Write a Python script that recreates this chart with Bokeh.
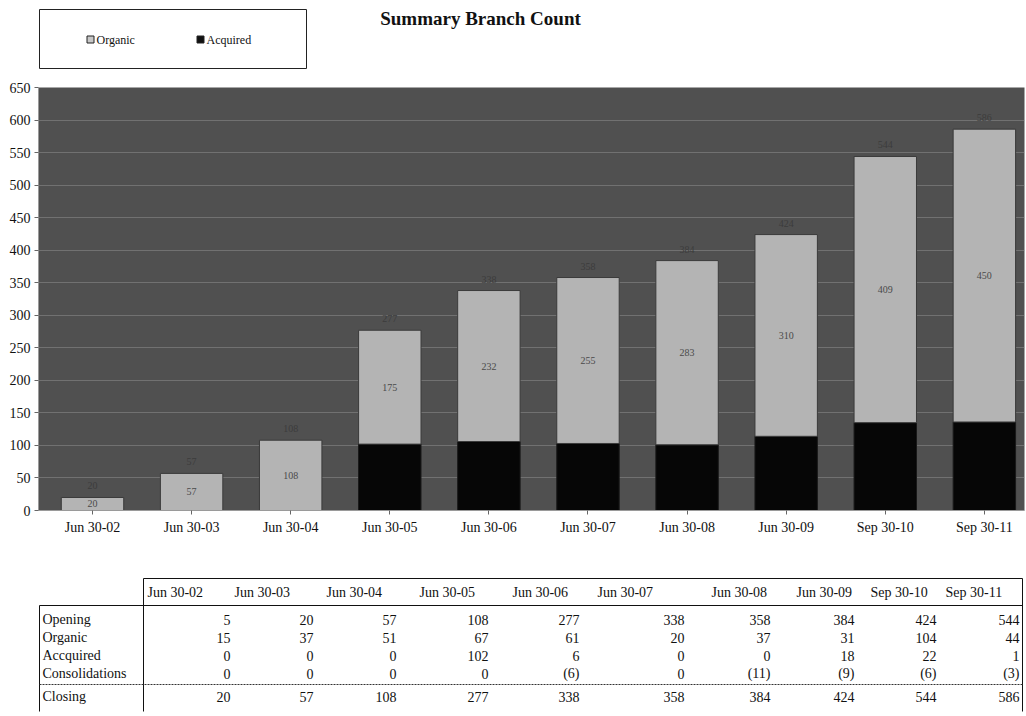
from bokeh.plotting import figure
from bokeh.layouts import column
from bokeh.models import Range1d, FixedTicker, ColumnDataSource
from bokeh.core.properties import value
from bokeh.embed import file_html
from bokeh.resources import INLINE

# ---- data ----
periods = ["Jun 30-02", "Jun 30-03", "Jun 30-04", "Jun 30-05", "Jun 30-06",
           "Jun 30-07", "Jun 30-08", "Jun 30-09", "Sep 30-10", "Sep 30-11"]
organic_branches = [20, 57, 108, 175, 232, 255, 283, 310, 409, 450]
acquired_branches = [0, 0, 0, 102, 106, 103, 101, 114, 135, 136]

row_names = ["Opening", "Organic", "Accquired", "Consolidations", "Closing"]
opening = [5, 20, 57, 108, 277, 338, 358, 384, 424, 544]
organic_adds = [15, 37, 51, 67, 61, 20, 37, 31, 104, 44]
acquired_adds = [0, 0, 0, 102, 6, 0, 0, 18, 22, 1]
consolidations = [0, 0, 0, 0, -6, 0, -11, -9, -6, -3]
closing = [20, 57, 108, 277, 338, 358, 384, 424, 544, 586]

y_ticks = list(range(0, 651, 50))

SERIF = "Liberation Serif"
W = 1026
LEFT, RIGHT = 38, 2          # shared side borders, so every panel's frame lines up
XR = (LEFT, W - RIGHT)       # panel x coordinates are page pixels


def blank_panel(height):
    f = figure(width=W, height=height, x_range=Range1d(*XR), y_range=Range1d(height, 0),
               output_backend="svg", toolbar_location=None,
               min_border_left=LEFT, min_border_right=RIGHT,
               min_border_top=0, min_border_bottom=0)
    f.axis.visible = False
    f.grid.visible = False
    f.outline_line_color = None
    return f


# ---- header: title and legend ----
HH = 77
head = blank_panel(HH)
head.text(x=[480], y=[18], text=["Summary Branch Count"], text_align="center",
          text_baseline="middle", text_font=value(SERIF), text_font_style="bold",
          text_font_size="19px", text_color="#111111")
head.quad(left=[39], right=[306], top=[9], bottom=[68], fill_color=None,
          line_color="#222222", line_width=1)
head.scatter(x=[90, 200], y=[39, 39], marker="square", size=7,
             fill_color=["#c8c8c8", "#111111"], line_color="#222222")
head.text(x=[96, 206], y=[39, 39], text=["Organic", "Acquired"], text_baseline="middle",
          text_font=value(SERIF), text_font_size="12px", text_color="#111111")

# ---- stacked bar chart ----
idx = list(range(len(periods)))
totals = [a + o for a, o in zip(acquired_branches, organic_branches)]
src = ColumnDataSource(dict(
    x=idx,
    acq=acquired_branches,
    org=organic_branches,
    tot=totals,
    mid=[a + o / 2 for a, o in zip(acquired_branches, organic_branches)],
    org_lbl=[str(o) for o in organic_branches],
    tot_lbl=[str(t) for t in totals],
))

p = figure(width=W, height=468, x_range=Range1d(-0.545, 9.405), y_range=Range1d(0, 650),
           output_backend="svg", toolbar_location=None,
           min_border_left=LEFT, min_border_right=RIGHT, min_border_top=10,
           min_border_bottom=35)
p.outline_line_color = None
p.background_fill_color = "#505050"
p.border_fill_color = "white"

p.xgrid.visible = False
p.ygrid.ticker = FixedTicker(ticks=y_ticks)
p.ygrid.grid_line_color = "#8c8c8c"
p.ygrid.grid_line_alpha = 0.55

p.yaxis.ticker = FixedTicker(ticks=y_ticks)
p.xaxis.ticker = FixedTicker(ticks=idx)
p.xaxis.major_label_overrides = {i: lab for i, lab in enumerate(periods)}
for ax in (p.xaxis, p.yaxis):
    ax.major_label_text_font = SERIF
    ax.major_label_text_font_size = "14px"
    ax.major_label_text_color = "#111111"
    ax.axis_line_color = "#9a9a9a"
    ax.major_tick_line_color = "#666666"
    ax.major_tick_out = 4
    ax.major_tick_in = 0
    ax.minor_tick_line_color = None
p.xaxis.major_label_standoff = 5
p.yaxis.major_label_standoff = 4

p.vbar(x="x", bottom=0, top="acq", width=0.63, source=src,
       fill_color="#060606", line_color="#1a1a1a")
p.vbar(x="x", bottom="acq", top="tot", width=0.63, source=src,
       fill_color="#b4b4b4", line_color="#3a3a3a")
p.text(x="x", y="mid", text="org_lbl", source=src, text_align="center",
       text_baseline="middle", text_font=value(SERIF), text_font_size="10px",
       text_color="#4a4a4a")
p.text(x="x", y="tot", text="tot_lbl", source=src, text_align="center",
       text_baseline="bottom", y_offset=-8, text_font=value(SERIF),
       text_font_size="10px", text_color="#3c3c3c")

# ---- summary table ----
TH = 716 - HH - 468
tbl = blank_panel(TH)

top_y, head_bot, bot_y = 33, 60, 166
left_x, split_x, right_x = 39, 143, 1022
row_y = [74, 92, 110, 128, 151]
dash_y = 139
header_left = [147, 234, 326, 419, 512, 597, 711, 796, 870, 945]
num_right = [230, 313, 396, 488, 579, 684, 770, 854, 936, 1019]

line_kw = dict(line_color="#111111", line_width=1)
tbl.segment(x0=[split_x, left_x, split_x, left_x, right_x],
            y0=[top_y, head_bot, top_y, head_bot, top_y],
            x1=[right_x, right_x, split_x, left_x, right_x],
            y1=[top_y, head_bot, bot_y, bot_y, bot_y], **line_kw)
tbl.segment(x0=[left_x], y0=[dash_y], x1=[right_x], y1=[dash_y],
            line_color="#333333", line_width=1, line_dash="2 1")

txt = dict(text_font=value(SERIF), text_font_size="14px", text_color="#111111",
           text_baseline="middle")
tbl.text(x=header_left, y=[(top_y + head_bot) / 2] * len(periods), text=periods,
         text_align="left", **txt)
tbl.text(x=[left_x + 3] * len(row_names), y=row_y, text=row_names, text_align="left", **txt)


def fmt(v):
    return f"({-v})" if v < 0 else str(v)


for ry, vals in zip(row_y, [opening, organic_adds, acquired_adds, consolidations, closing]):
    tbl.text(x=num_right, y=[ry] * len(vals), text=[fmt(v) for v in vals],
             text_align="right", **txt)

page = column(head, p, tbl, spacing=0)
open("out.html", "w").write(file_html(page, INLINE))
